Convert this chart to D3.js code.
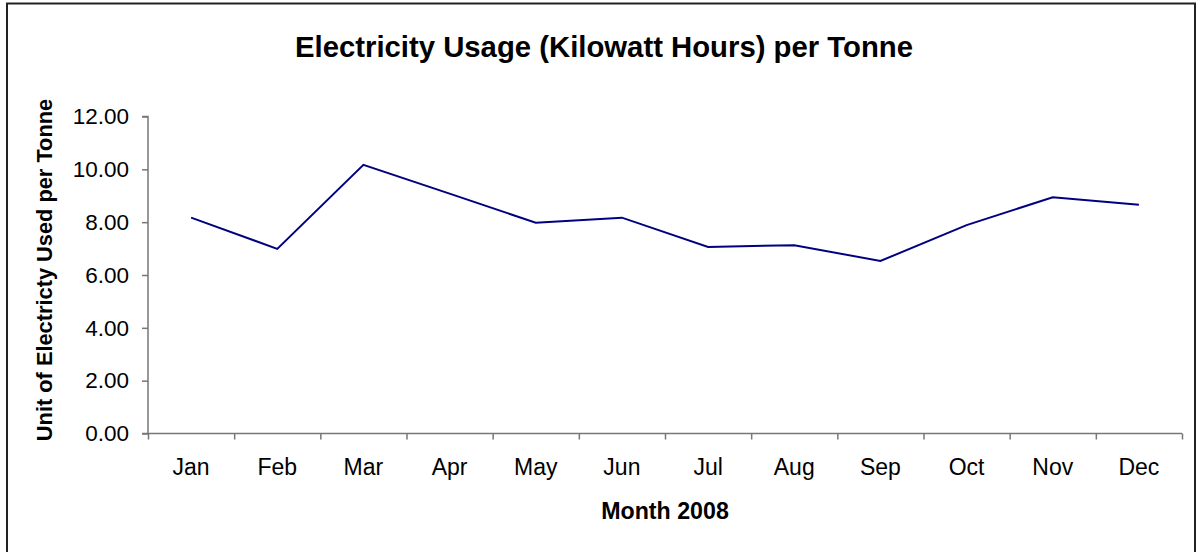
<!DOCTYPE html>
<html>
<head>
<meta charset="utf-8">
<script src="https://cdn.jsdelivr.net/npm/d3@7"></script>
<style>
  html, body { margin: 0; padding: 0; background: #fff; }
  svg { display: block; font-family: "Liberation Sans", Arial, sans-serif; }
</style>
</head>
<body>
<svg id="chart" width="1200" height="552"></svg>
<script>
const months = ["Jan","Feb","Mar","Apr","May","Jun","Jul","Aug","Sep","Oct","Nov","Dec"];
const usage = [8.17, 6.99, 10.17, 9.08, 7.98, 8.17, 7.06, 7.13, 6.53, 7.89, 8.94, 8.66];
const yTicks = [0, 2, 4, 6, 8, 10, 12];
const titleText = "Electricity Usage (Kilowatt Hours) per Tonne";
const xTitle = "Month 2008";
const yTitle = "Unit of Electricty Used per Tonne";

const svg = d3.select("#chart");
const L = 148, R = 1182, T = 116.5, B = 433.5;

// outer frame
svg.append("rect").attr("x", 7).attr("y", 3.5).attr("width", 1188).attr("height", 560)
  .attr("fill", "#fff").attr("stroke", "#222").attr("stroke-width", 2);

const x = d3.scaleBand().domain(months).range([L, R]);
const xEdge = d3.scaleLinear().domain([0, months.length]).range([L, R]);
const y = d3.scaleLinear().domain([0, 12]).range([B, T]);

// y axis
const yAxis = svg.append("g").attr("transform", `translate(${L},0)`)
  .call(d3.axisLeft(y).tickValues(yTicks).tickFormat(d3.format(".2f")).tickSize(6).tickPadding(13));
yAxis.select(".domain").attr("stroke", "#777").attr("stroke-width", 1.5).attr("d", `M-6,${T}H0V${B}H-6`);
yAxis.selectAll(".tick line").attr("stroke", "#777").attr("stroke-width", 1.5);
yAxis.selectAll("text").attr("font-size", 22.5).attr("fill", "#000")
  .attr("font-family", "Liberation Sans, Arial, sans-serif");

// x axis boundary ticks
const xTickG = svg.append("g").attr("transform", `translate(0,${B})`)
  .call(d3.axisBottom(xEdge).tickValues(d3.range(0, 13)).tickFormat("").tickSize(6));
xTickG.select(".domain").attr("stroke", "#777").attr("stroke-width", 1.5).attr("d", `M${L},0H${R}`);
xTickG.selectAll(".tick line").attr("stroke", "#777").attr("stroke-width", 1.5);

// x labels
const xLab = svg.append("g").attr("transform", `translate(0,${B})`)
  .call(d3.axisBottom(x).tickSize(0).tickPadding(25));
xLab.select(".domain").remove();
xLab.selectAll("text").attr("font-size", 23).attr("fill", "#000")
  .attr("font-family", "Liberation Sans, Arial, sans-serif");

// line
const line = d3.line()
  .x((d, i) => x(months[i]) + x.bandwidth() / 2)
  .y(d => y(d));
svg.append("path").datum(usage).attr("d", line)
  .attr("fill", "none").attr("stroke", "#000080").attr("stroke-width", 2);

// titles
svg.append("text").attr("x", 604).attr("y", 57).attr("text-anchor", "middle")
  .attr("font-size", 29.3).attr("font-weight", "bold").text(titleText);
svg.append("text").attr("x", 665).attr("y", 518.5).attr("text-anchor", "middle")
  .attr("font-size", 23.2).attr("font-weight", "bold").text(xTitle);
svg.append("text").attr("transform", `translate(52,270) rotate(-90)`).attr("text-anchor", "middle")
  .attr("font-size", 21.8).attr("font-weight", "bold").text(yTitle);
</script>
</body>
</html>
